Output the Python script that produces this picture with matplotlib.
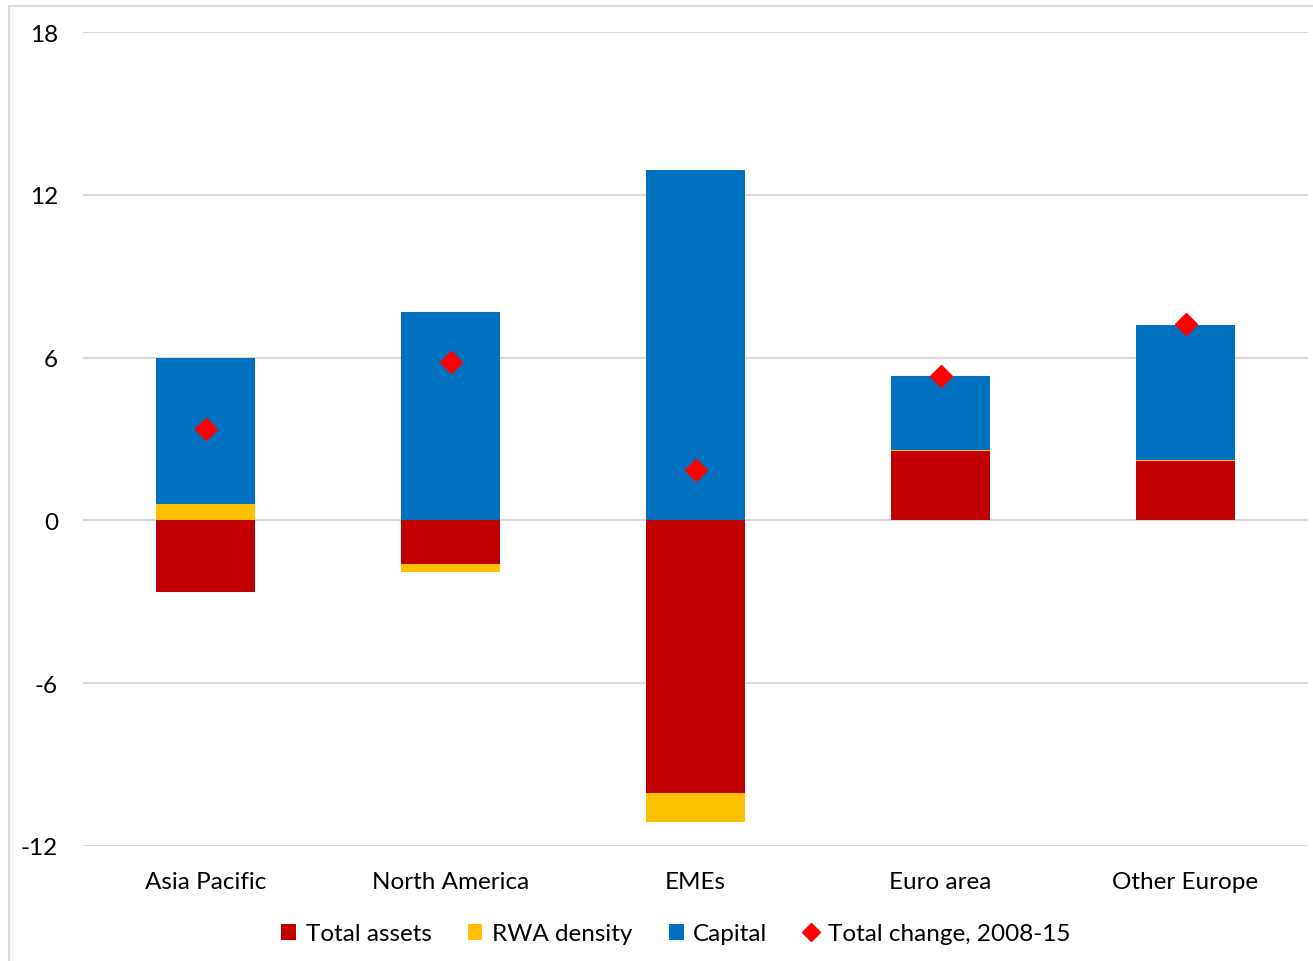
import matplotlib
matplotlib.use("Agg")
import matplotlib.pyplot as plt
import numpy as np
from matplotlib.patches import Patch, Rectangle
from matplotlib.lines import Line2D

plt.rcParams['font.family'] = ['Lato', 'DejaVu Sans']

categories = ["Asia Pacific", "North America", "EMEs", "Euro area", "Other Europe"]
total_assets = [-2.65, -1.62, -10.05, 2.54, 2.20]
rwa_density = [0.60, -0.30, -1.08, 0.04, 0.03]
capital = [5.40, 7.69, 12.92, 2.76, 4.98]
total_change = [3.38, 5.82, 1.84, 5.34, 7.23]

series = [("Total assets", total_assets, "#C00000"),
          ("RWA density", rwa_density, "#FFC000"),
          ("Capital", capital, "#0070C0")]

W, H = 1313, 962
fig = plt.figure(figsize=(W / 100, H / 100), dpi=100)
ax = fig.add_axes([83 / W, 1 - 847 / H, (1308 - 83) / W, (847 - 33) / H])

# outer frame
fig.patches.append(Rectangle((9 / W, -0.1), 1.2, 1 - 7 / H + 0.1, transform=fig.transFigure,
                             fill=False, edgecolor="#d9d9d9", linewidth=1.5))

x = np.arange(len(categories))
pos_base = np.zeros(len(categories))
neg_base = np.zeros(len(categories))
width = 0.404
for name, vals, color in series:
    vals = np.array(vals, dtype=float)
    bottoms = np.where(vals >= 0, pos_base, neg_base)
    ax.bar(x, vals, width=width, bottom=bottoms, color=color, zorder=3, linewidth=0)
    pos_base = pos_base + np.where(vals >= 0, vals, 0)
    neg_base = neg_base + np.where(vals < 0, vals, 0)

ax.plot(x, total_change, linestyle="none", marker="D", markersize=11,
        color="#FF0000", zorder=5)

ax.set_xlim(-0.5, len(categories) - 0.5)
ax.set_ylim(-12, 18)
ax.set_yticks([-12, -6, 0, 6, 12, 18])
ax.set_yticklabels(["-12", "-6", "0", "6", "12", "18"])
ax.yaxis.grid(True, color="#d9d9d9", linewidth=1.5, zorder=0)
ax.set_axisbelow(True)
ax.axhline(0, color="#d9d9d9", linewidth=1.5, zorder=1)
ax.set_xticks(x)
ax.set_xticklabels(categories)
for s in ax.spines.values():
    s.set_visible(False)
ax.tick_params(axis="both", length=0, labelsize=17.5, colors="#000000")
ax.tick_params(axis="y", pad=18)
ax.tick_params(axis="x", pad=18)

handles = [Patch(facecolor=c, edgecolor="none") for _, _, c in series]
handles.append(Line2D([], [], linestyle="none", marker="D", markersize=9, color="#FF0000"))
labels = [n for n, _, _ in series] + ["Total change, 2008-15"]
fig.legend(handles, labels, loc="center", bbox_to_anchor=(676 / W, 1 - 935 / H),
           ncol=4, frameon=False, fontsize=17.5, handlelength=0.6, handleheight=0.6,
           handletextpad=0.4, columnspacing=1.5)

fig.savefig("out.png", dpi=100)
